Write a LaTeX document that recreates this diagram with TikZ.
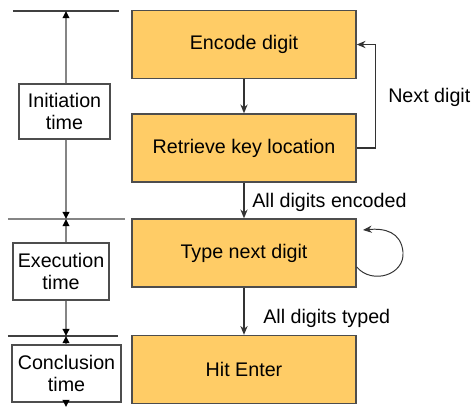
\documentclass[tikz,border=0pt]{standalone}
\usepackage{fontspec}
\setmainfont{Liberation Sans}
\usetikzlibrary{arrows.meta, positioning, calc}
\definecolor{stepfill}{HTML}{FFCC66}
\definecolor{stepline}{HTML}{4D4D4D}
\definecolor{phasegray}{HTML}{858585}
\definecolor{phasedark}{HTML}{404040}

\begin{document}
\begin{tikzpicture}[
    stepbox/.style={rectangle, draw=stepline, line width=1pt, fill=stepfill, minimum width=5.6cm, minimum height=1.7cm, font=\fontsize{14}{16}\selectfont},
    phasebox/.style={rectangle, draw=stepline, line width=1pt, fill=white, minimum height=1.425cm, inner sep=2pt, font=\fontsize{14}{16}\selectfont, align=center},
    arrow/.style={-{Stealth[length=2.2mm, width=1.8mm]}, line width=0.9pt, color=black!80},
    timeline/.style={-{Triangle[length=1.8mm, width=1.7mm, color=black]}, line width=1pt, color=phasegray},
    boundary/.style={line width=1.4pt, color=#1},
    lbl/.style={font=\fontsize{14}{16}\selectfont, inner sep=0pt}
]
\useasboundingbox (0,0) rectangle (11.775,-10.175);

\node[stepbox] (encode) at (6.1,-1.1125) {Encode digit};
\node[stepbox] (retrieve) at (6.1,-3.7) {Retrieve key location};
\node[stepbox] (type) at (6.1,-6.325) {Type next digit};
\node[stepbox] (enter) at (6.1,-9.2375) {Hit Enter};

\draw[arrow] (encode) -- (retrieve);
\draw[arrow] (retrieve) -- (type);
\draw[arrow] (type) -- (enter);

% Loop back for the next digit
\draw[arrow] (retrieve.east) -- ++(0.475,0) |- (encode.east);
\node[lbl, anchor=base west] (nextlbl) at (9.7,-2.55) {Next digit};

\node[lbl, anchor=base west] (encodedlbl) at (6.3,-5.175) {All digits encoded};
\node[lbl, anchor=base west] (typedlbl) at (6.575,-8.075) {All digits typed};

% Self loop on typing
\coordinate (loopend) at (9.075,-5.75);
\draw[arrow, line width=0.7pt] ([yshift=-0.35cm]type.east) .. controls (9.3,-7.125) and (10.125,-6.875) .. (10.075,-6.3) .. controls (10.025,-5.8) and (9.625,-5.7) .. (loopend);

% Time phases
\draw[boundary=phasedark] (0.325,-0.275) -- (2.975,-0.275);
\draw[boundary=phasegray] (0.2,-5.475) -- (3.125,-5.475);
\draw[boundary=phasedark] (0.2,-8.4) -- (2.95,-8.4);

\coordinate (b0) at (1.65,-0.275);
\coordinate (b1) at (1.65,-5.475);
\coordinate (b2) at (1.65,-8.4);
\coordinate (b3) at (1.65,-10.175);

\node[phasebox, minimum width=2.275cm, minimum height=1.375cm] (initiation) at (1.6125,-2.7875) {Initiation\\time};
\node[phasebox, minimum width=2.4cm] (execution) at (1.525,-6.7875) {Execution\\time};
\node[phasebox, minimum width=2.725cm] (conclusion) at (1.6625,-9.3375) {Conclusion\\time};

\draw[timeline] (b0 |- initiation.north) -- (b0);
\draw[timeline] (b1 |- initiation.south) -- (b1);
\draw[timeline] (b1 |- execution.north) -- (b1);
\draw[timeline] (b2 |- execution.south) -- (b2);
\draw[timeline] (b2 |- conclusion.north) -- (b2);
\draw[timeline] (b3 |- conclusion.south) -- (b3);

\end{tikzpicture}
\end{document}
